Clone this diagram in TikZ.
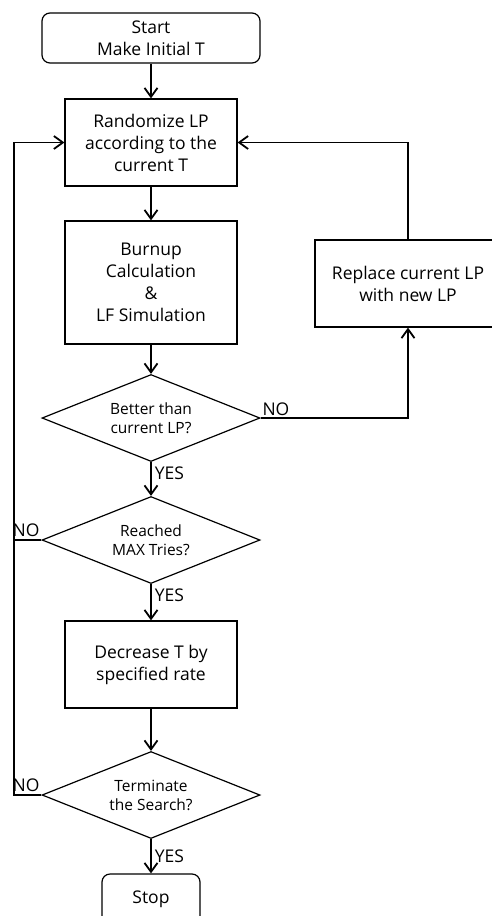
\documentclass[tikz,border=0pt]{standalone}
\usepackage{fontspec}
\setmainfont{Open Sans}
\usetikzlibrary{positioning,arrows.meta,shapes,calc}
\tikzset{
    box/.style={draw, line width=1.2pt, rectangle, align=center, inner sep=0pt, font=\fontsize{17.5}{22}\selectfont},
    term/.style={box, rounded corners=8pt},
    test/.style={draw, line width=1.2pt, diamond, aspect=2.5, align=center, inner sep=0pt, minimum width=218pt, minimum height=87pt, font=\fontsize{15.5}{19}\selectfont},
    flow/.style={line width=1.8pt, -{Straight Barb[length=9pt,width=13pt]}},
    link/.style={line width=1.8pt},
    tag/.style={font=\fontsize{17.5}{20}\selectfont, inner sep=1pt}
}
\begin{document}
\begin{tikzpicture}[x=1pt,y=-1pt]
        \useasboundingbox (0,0) rectangle (492,916);
        % main column
        \node[term, minimum width=218pt, minimum height=50pt] (start) at (151,38) {Start\\Make Initial T};
        \node[box, minimum width=172pt, minimum height=87pt] (rand) at (151,142.5) {Randomize LP\\according to the\\current T};
        \node[box, minimum width=172pt, minimum height=123pt] (burn) at (151,282.5) {Burnup\\Calculation\\\&\\LF Simulation};
        \node[test] (better) at (151,418) {Better than\\current LP?};
        \node[test] (reached) at (151,540) {Reached\\MAX Tries?};
        \node[box, minimum width=172pt, minimum height=87pt] (decr) at (151,664.5) {Decrease T by\\specified rate};
        \node[test] (stopq) at (151,795) {Terminate\\the Search?};
        \node[term, minimum width=98pt, minimum height=50pt] (stop) at (151,899) {Stop};
        % side branch
        \node[box, minimum width=186pt, minimum height=87pt] (repl) at (408,283.5) {Replace current LP\\with new LP};
        \coordinate (loop) at (14,795);

        \draw[flow] (start) -- (rand);
        \draw[flow] (rand) -- (burn);
        \draw[flow] (burn) -- (better);
        \draw[flow] (better.south) node[tag, below right=3pt and 2pt] {YES} -- (reached.north);
        \draw[flow] (reached.south) node[tag, below right=3pt and 2pt] {YES} -- (decr.north);
        \draw[flow] (decr) -- (stopq);
        \draw[flow] (stopq.south) node[tag, below right=9pt and 2pt] {YES} -- (stop.north);
        \draw[flow] (better.east) node[tag, above right] {NO} -| (repl.south);
        \draw[flow] (repl.north) |- (rand.east);
        \draw[flow] (stopq.west) node[tag, above left=1pt and 0pt] {NO} -- (loop) |- (rand.west);
        \draw[link] (reached.west) node[tag, above left=1pt and 0pt] {NO} -- (reached.west -| loop);
\end{tikzpicture}
\end{document}
